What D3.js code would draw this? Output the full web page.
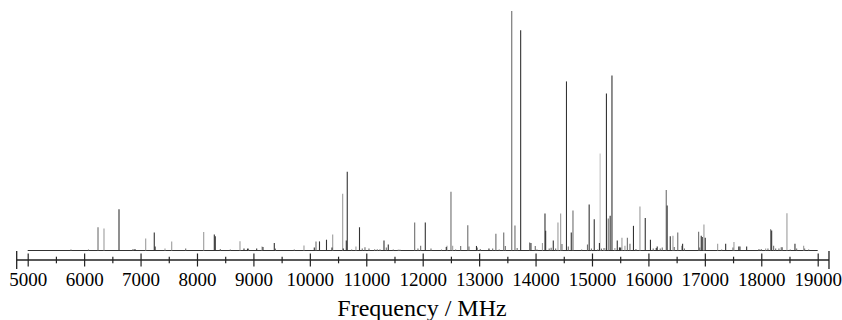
<!DOCTYPE html>
<html>
<head>
<meta charset="utf-8">
<script src="https://cdn.jsdelivr.net/npm/d3@7"></script>
<style>
  body { margin: 0; background: #fff; }
  svg { display: block; }
</style>
</head>
<body>
<svg id="chart"></svg>
<script>
// stick spectrum, [frequency in MHz, relative intensity (tallest = 100)]
const darkLines = [
  [6618, 17.2], [6901, 0.6], [7243, 7.5], [7258, 1.7], [8307, 6.7], [8324, 5.9],
  [8833, 0.8], [8895, 0.8], [9058, 0.8], [9169, 1.5], [9370, 3.1], [10079, 1.3],
  [10171, 3.8], [10295, 4.5], [10392, 1.3], [10593, 0.8], [10646, 4.2], [10663, 32.9],
  [10880, 9.7], [11314, 4.2], [11390, 2.5], [12046, 11.7], [12418, 1.5], [12953, 1.9],
  [13174, 0.8], [13736, 92], [13918, 3.1], [14167, 15.4], [14179, 8.2], [14314, 4.2],
  [14548, 70.6], [14633, 7.5], [14950, 19.2], [15040, 13.1], [15132, 3.1], [15256, 65.6],
  [15322, 14.5], [15354, 73.1], [15448, 4.2], [15487, 1.3], [15508, 1.3], [15735, 10.3],
  [15944, 13.6], [16036, 4.5], [16139, 1.0], [16156, 1.7], [16332, 18.8], [16387, 5.9],
  [16606, 2.8], [16936, 6.2], [16954, 5.6], [17007, 5.3], [17369, 2.8], [17601, 1.7],
  [17622, 1.7], [17741, 1.7], [18184, 8.4], [18597, 2.8]
];
const midLines = [
  [5767, 0.4], [6077, 0.4], [6246, 9.7], [6866, 0.6], [7800, 0.8], [8413, 0.6],
  [8590, 0.4], [8913, 0.8], [9391, 0.8], [9724, 0.4], [10109, 3.8], [10741, 0.4],
  [10929, 0.8], [10977, 1.4], [11048, 0.8], [11355, 1.3], [11478, 0.4], [11858, 11.7],
  [11916, 0.8], [11964, 2.0], [12147, 0.8], [12333, 0.4], [12501, 24.5], [12584, 0.4],
  [12673, 1.9], [12799, 10.5], [12820, 1.7], [12967, 1.3], [13020, 0.6], [13240, 0.8],
  [13297, 7.0], [13356, 0.4], [13436, 7.5], [13464, 1.9], [13578, 100], [13635, 10.4],
  [13674, 1.0], [13895, 3.3], [13995, 1.9], [14025, 0.4], [14242, 0.8], [14276, 1.1],
  [14356, 0.8], [14468, 2.7], [14580, 1.7], [14663, 16.7], [14817, 0.4], [14920, 2.5],
  [14990, 0.8], [15100, 0.4], [15168, 0.8], [15288, 13.4], [15627, 5.3], [15673, 2.8],
  [15779, 0.6], [16085, 0.8], [16209, 0.8], [16245, 1.3], [16316, 25.3], [16458, 1.5],
  [16520, 7.5], [16594, 2.0], [16638, 0.8], [16890, 7.8], [16908, 1.3], [17298, 0.4],
  [17498, 1.3], [17959, 0.6], [18000, 0.6], [18118, 0.8], [18166, 8.9], [18219, 2.0],
  [18255, 0.8], [18313, 0.8], [18354, 1.4], [18372, 1.4], [18513, 0.4], [18627, 0.8],
  [18769, 0.8], [18840, 0.4]
];
const lightLines = [
  [6352, 9.2], [7091, 5.0], [7433, 0.8], [7552, 3.8], [8119, 7.7], [8762, 3.9],
  [9152, 1.7], [9896, 2.1], [10405, 6.7], [10582, 23.7], [10817, 1.7], [11149, 0.6],
  [11195, 0.6], [11243, 0.6], [11567, 0.4], [11597, 0.4], [12430, 2.0], [12531, 2.0],
  [14122, 3.1], [14397, 11.7], [14445, 15.4], [15209, 1.0], [15227, 1.0], [15406, 1.0],
  [15531, 5.3], [15584, 2.0], [15850, 18.4], [16435, 6.2], [16984, 10.9], [17227, 2.8],
  [17516, 3.6], [18078, 0.8], [18455, 15.6], [18751, 2.0]
];
const faintLines = [[15144, 40.5]];

const majorTicks = d3.range(5000, 19001, 1000);
const minorTicks = d3.range(5500, 19000, 1000);
const axisEnds = [4805, 19200];
const xTitle = "Frequency / MHz";

const width = 842, height = 320;
const svg = d3.select("#chart")
  .attr("width", width)
  .attr("height", height)
  .attr("viewBox", `0 0 ${width} ${height}`);

const x = d3.scaleLinear().domain([5000, 19000]).range([27.7, 817.7]);
const y = d3.scaleLinear().domain([0, 100]).range([250.5, 11]);

const series = [
  { data: faintLines, color: "#c4c4c4" },
  { data: lightLines, color: "#9c9c9c" },
  { data: midLines, color: "#6e6e6e" },
  { data: darkLines, color: "#333" }
];

// baseline of the spectrum
svg.append("line")
  .attr("x1", x.range()[0]).attr("x2", x.range()[1])
  .attr("y1", y(0)).attr("y2", y(0))
  .attr("stroke", "#333").attr("stroke-width", 1);

svg.append("g")
  .selectAll("g")
  .data(series)
  .join("g")
  .attr("stroke", d => d.color)
  .attr("stroke-width", 1.1)
  .selectAll("line")
  .data(d => d.data)
  .join("line")
  .attr("x1", d => x(d[0]))
  .attr("x2", d => x(d[0]))
  .attr("y1", y(0))
  .attr("y2", d => y(d[1]));

// frequency axis, ticks cross the line
const axisY = 260;
const axisG = svg.append("g").attr("transform", `translate(0,${axisY})`);

axisG.append("line")
  .attr("x1", x(axisEnds[0])).attr("x2", x(axisEnds[1]))
  .attr("stroke", "#222").attr("stroke-width", 1.3);

axisG.append("g")
  .selectAll("line")
  .data(axisEnds)
  .join("line")
  .attr("x1", d => x(d)).attr("x2", d => x(d))
  .attr("y1", -9).attr("y2", 9)
  .attr("stroke", "#222").attr("stroke-width", 1.3);

const minorG = axisG.append("g")
  .call(d3.axisBottom(x).tickValues(minorTicks).tickSize(3.3).tickFormat(""));
minorG.select(".domain").remove();
minorG.selectAll(".tick line").attr("y1", -3.3).attr("stroke", "#222").attr("stroke-width", 1.2);

const majorG = axisG.append("g")
  .call(d3.axisBottom(x).tickValues(majorTicks).tickSize(6.5).tickFormat(d3.format("d")));
majorG.select(".domain").remove();
majorG.selectAll(".tick line").attr("y1", -6.5).attr("stroke", "#222").attr("stroke-width", 1.2);
majorG.attr("font-family", "'Liberation Serif', 'Times New Roman', serif").attr("font-size", 19);
majorG.selectAll(".tick text")
  .attr("y", 26)
  .attr("dy", null)
  .attr("fill", "#000");

svg.append("text")
  .attr("x", 422)
  .attr("y", 316)
  .attr("text-anchor", "middle")
  .attr("font-family", "'Liberation Serif', 'Times New Roman', serif")
  .attr("font-size", 24)
  .attr("fill", "#000")
  .text(xTitle);
</script>
</body>
</html>
